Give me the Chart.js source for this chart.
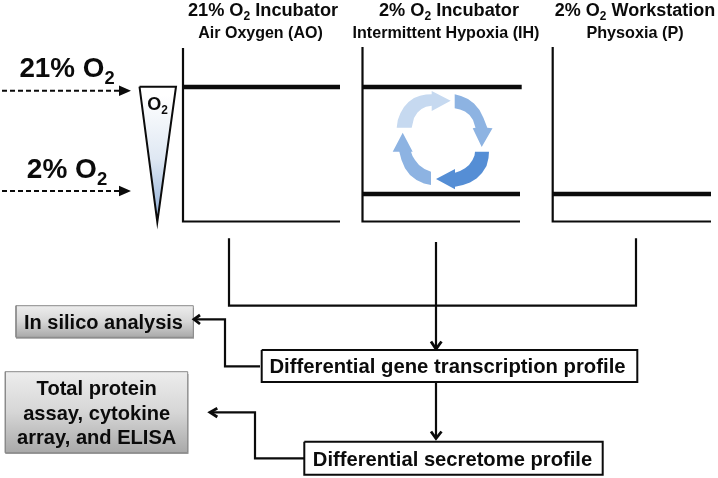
<!DOCTYPE html>
<html>
<head>
<meta charset="utf-8">
<title>Oxygen conditions diagram</title>
<script src="https://cdn.jsdelivr.net/npm/chart.js@4"></script>
<style>
  html, body { margin: 0; padding: 0; background: #fff; }
  canvas { display: block; filter: blur(0.35px); }
</style>
</head>
<body>
<canvas id="myChart" width="718" height="478"></canvas>
<script>
// Text, with _2 marking a subscript. Same index across the four label arrays.
const labelTexts = [
    '21% O_2 Incubator', 'Air Oxygen (AO)',
    '2% O_2 Incubator', 'Intermittent Hypoxia (IH)',
    '2% O_2 Workstation', 'Physoxia (P)',
    '21% O_2', '2% O_2', 'O_2',
    'In silico analysis',
    'Total protein', 'assay, cytokine', 'array, and ELISA',
    'Differential gene transcription profile',
    'Differential secretome profile'
];
const labelX = [263, 260.5, 449, 446, 635, 635, 67, 67, 157.5, 103.5, 96.7, 96.7, 96.7, 447.5, 452.5];
const labelY = [16, 38, 16, 38, 16, 38, 77, 178, 110, 329, 395, 419.5, 444, 373, 466];
const labelSizes = [18.2, 16, 18.2, 16.1, 18, 16.2, 27.8, 28, 18, 20, 20.1, 20.1, 20.1, 20.3, 20.2];

// Panel axes and oxygen levels, in picture coordinates
const panelAxis1 = [[183, 48], [183, 221.5], [340, 221.5]];
const panelAxis2 = [[362.5, 47], [362.5, 221.5], [520, 221.5]];
const panelAxis3 = [[552.7, 47], [552.7, 221.5], [711, 221.5]];
const levelAO = [[183, 87], [340, 87]];
const levelIHHigh = [[362.5, 87], [521.7, 87]];
const levelIHLow = [[362.5, 194], [520, 194]];
const levelPhysoxia = [[552.7, 194], [711, 194]];

// Dashed oxygen arrows
const dashHigh = [[2, 90.7], [120, 90.7]];
const dashLow = [[2, 191], [120, 191]];
const dashHeadHigh = [[119, 85.5], [119, 96], [131, 90.7], [119, 85.5]];
const dashHeadLow = [[119, 185.8], [119, 196.2], [131, 191], [119, 185.8]];

const wedge = [[139.5, 86.7], [157.3, 222], [176, 86.7], [139.5, 86.7]];
const wedgeStops = ['#ffffff', '#dfe8f3', '#8eaed8'];

// Cycle arrows around the intermittent hypoxia panel
const cycleTopLeft = [[396.7, 127.7], [397.8, 120], [400.5, 113], [404, 107], [408.5, 102], [414, 98], [420, 95.7], [426, 94.5], [431.7, 94.2],
    [431.7, 91], [450.7, 100.7], [431.7, 111], [431.7, 105.7], [426, 106.7], [421.5, 109], [417.5, 112.5], [414, 118], [411.7, 127.7], [396.7, 127.7]];
const cycleTopRight = [[454.7, 94.3], [461, 96], [468, 99], [474, 103.5], [479.5, 110], [483.5, 118], [487.3, 127.7],
    [492.5, 128.3], [481.7, 147], [472.7, 128.3], [475.5, 127.7], [473, 120], [469.5, 115], [465, 111.5], [460, 109.5], [454.7, 108.3], [454.7, 94.3]];
const cycleBottomRight = [[489, 151.7], [488.5, 158], [486.5, 166], [482, 173], [476.5, 178.5], [470, 182.5], [463, 185], [455, 186.7],
    [455, 189.3], [436, 179], [455, 169], [455, 172.7], [460, 171], [465, 168.3], [469, 165], [472.5, 160], [474.5, 155.5], [475, 151.7], [489, 151.7]];
const cycleBottomLeft = [[431, 185], [424, 183.5], [416.5, 180], [410, 175], [405, 168.3], [401.5, 160], [399.3, 151.7],
    [392.7, 151.7], [402.7, 132.7], [412.7, 151.7], [411, 151.7], [412.5, 156], [415, 160], [419, 165], [424.5, 169], [431, 171.7], [431, 185]];

// Connectors under the panels
const panelBracket = [[229, 238.3], [229, 305.7], [636, 305.7], [636, 238.3]];
const stemDown = [[436, 242], [436, 349]];
const stemHeadDown = [[431, 341.5], [436, 349], [441.5, 341.5]];
const profileLink = [[436, 382], [436, 438.5]];
const profileHead = [[431, 431.5], [436, 438.5], [441.5, 431.5]];
const silicoLink = [[260, 366.3], [225, 366.3], [225, 319.3], [194, 319.3]];
const silicoHead = [[200, 315], [194, 319.3], [200, 324]];
const proteinLink = [[304, 458.3], [255, 458.3], [255, 412.3], [210, 412.3]];
const proteinHead = [[217.3, 408.3], [210, 412.3], [217.3, 417]];

// Boxes
const geneBox = [[261.7, 350], [261.7, 382], [637.3, 382], [637.3, 350], [261.7, 350]];
const secretomeBox = [[304.3, 441.7], [304.3, 474.7], [602.7, 474.7], [602.7, 441.7], [304.3, 441.7]];
const silicoBox = [[16, 305.7], [16, 337.3], [193.3, 337.3], [193.3, 305.7], [16, 305.7]];
const silicoShadow = [[16, 308], [16, 338.7], [194, 338.7], [194, 308], [16, 308]];
const proteinBox = [[5.3, 371.7], [5.3, 452.7], [187.7, 452.7], [187.7, 371.7], [5.3, 371.7]];
const proteinShadow = [[5.3, 374], [5.3, 454], [188.5, 454], [188.5, 374], [5.3, 374]];
const grayStops = ['#ededed', '#d6d6d6', '#a9a9a9'];

function toPoints(pairs) {
    return pairs.map(p => ({ x: p[0], y: p[1] }));
}

function line(pairs, width, dash) {
    return {
        data: toPoints(pairs), showLine: true, fill: false, tension: 0, pointRadius: 0, clip: false,
        borderColor: '#0b0b0b', borderWidth: width, borderDash: dash || [],
        borderCapStyle: 'butt', borderJoinStyle: 'miter'
    };
}

// indexAxis y keeps the filler from clipping a closed outline to its first and last x
function shape(pairs, fillColor, strokeColor, width) {
    return {
        data: toPoints(pairs), showLine: true, fill: 'shape', tension: 0, pointRadius: 0, clip: false,
        indexAxis: 'y', backgroundColor: fillColor, borderColor: strokeColor, borderWidth: width,
        borderJoinStyle: 'miter'
    };
}

// Vertical gradient between two picture y values, built through the y scale
function gradient(top, bottom, stops) {
    return function(context) {
        const scale = context.chart.scales.y;
        if (!scale) return stops[0];
        const y0 = scale.getPixelForValue(top);
        const y1 = scale.getPixelForValue(bottom);
        if (!isFinite(y0) || !isFinite(y1)) return stops[0];  // layout has not run yet
        const g = context.chart.ctx.createLinearGradient(0, y0, 0, y1);
        stops.forEach((c, i) => g.addColorStop(i / (stops.length - 1), c));
        return g;
    };
}

// Listed back to front, reversed below because Chart.js paints the first dataset last
const layers = [
    shape(silicoShadow, 'rgba(120,120,120,0.75)', 'rgba(0,0,0,0)', 0),
    shape(proteinShadow, 'rgba(120,120,120,0.75)', 'rgba(0,0,0,0)', 0),
    shape(silicoBox, gradient(305.7, 337.3, grayStops), '#8a8a8a', 1),
    shape(proteinBox, gradient(371.7, 452.7, grayStops), '#8a8a8a', 1),
    line(panelAxis1, 2.2), line(panelAxis2, 2.2), line(panelAxis3, 2.2),
    line(levelAO, 4.5), line(levelIHHigh, 4.5), line(levelIHLow, 4.5), line(levelPhysoxia, 4.5),
    line(dashHigh, 2, [5, 3]), line(dashLow, 2, [5, 3]),
    shape(dashHeadHigh, '#0b0b0b', '#0b0b0b', 0),
    shape(dashHeadLow, '#0b0b0b', '#0b0b0b', 0),
    shape(wedge, gradient(95, 222, wedgeStops), '#0b0b0b', 2),
    shape(cycleTopLeft, '#c6d9f0', '#c6d9f0', 0),
    shape(cycleTopRight, '#8db3e2', '#8db3e2', 0),
    shape(cycleBottomRight, '#558ed5', '#558ed5', 0),
    shape(cycleBottomLeft, '#8db3e2', '#8db3e2', 0),
    line(panelBracket, 2.2),
    line(stemDown, 2.2), line(stemHeadDown, 2.8),
    line(profileLink, 2.2), line(profileHead, 2.8),
    line(silicoLink, 2.2), line(silicoHead, 2.8),
    line(proteinLink, 2.2), line(proteinHead, 2.8),
    shape(geneBox, '#ffffff', '#0b0b0b', 2),
    shape(secretomeBox, '#ffffff', '#0b0b0b', 2)
];

// Draws the labels through the scales, splitting out the subscripts
const textPlugin = {
    id: 'diagramText',
    afterDatasetsDraw(chart) {
        const ctx = chart.ctx;
        const xScale = chart.scales.x;
        const yScale = chart.scales.y;
        ctx.save();
        ctx.fillStyle = '#0b0b0b';
        ctx.textBaseline = 'alphabetic';
        ctx.textAlign = 'left';
        labelTexts.forEach((text, i) => {
            const size = labelSizes[i];
            const runs = text.split('_').map((part, k) => {
                if (k === 0) return [{ text: part, sub: false }];
                return [{ text: part[0], sub: true }, { text: part.slice(1), sub: false }];
            }).flat().filter(r => r.text);
            let width = 0;
            runs.forEach(r => {
                ctx.font = 'bold ' + (r.sub ? size * 0.66 : size) + 'px "Liberation Sans"';
                r.width = ctx.measureText(r.text).width;
                width += r.width;
            });
            let x = xScale.getPixelForValue(labelX[i]) - width / 2;
            const y = yScale.getPixelForValue(labelY[i]);
            runs.forEach(r => {
                ctx.font = 'bold ' + (r.sub ? size * 0.66 : size) + 'px "Liberation Sans"';
                ctx.fillText(r.text, x, r.sub ? y + size * 0.24 : y);
                x += r.width;
            });
        });
        ctx.restore();
    }
};

new Chart(document.getElementById('myChart').getContext('2d'), {
    type: 'scatter',
    data: { datasets: layers.slice().reverse() },
    options: {
        responsive: false,
        animation: false,
        events: [],
        layout: { padding: 0 },
        plugins: { legend: { display: false }, tooltip: { enabled: false }, title: { display: false } },
        scales: {
            x: { type: 'linear', display: false, min: 0, max: 718 },
            y: { type: 'linear', display: false, min: 0, max: 478, reverse: true }
        }
    },
    plugins: [textPlugin]
});
</script>
</body>
</html>
